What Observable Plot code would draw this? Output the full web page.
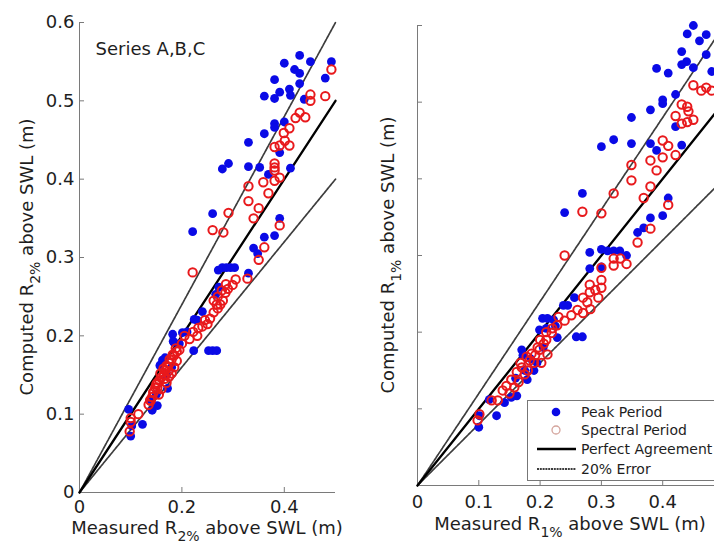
<!DOCTYPE html>
<html>
<head>
<meta charset="utf-8">
<script src="https://cdn.jsdelivr.net/npm/d3@7"></script>
<script src="https://cdn.jsdelivr.net/npm/@observablehq/plot@0.6"></script>
<style>
  html, body { margin: 0; padding: 0; background: #fff; overflow: hidden; }
  #wrap { position: relative; width: 714px; height: 544px; overflow: hidden; background: #fff; }
  #wrap svg { position: absolute; top: 0; overflow: visible; }
</style>
</head>
<body>
<div id="wrap"></div>
<script>
// ---------- data ----------
const xTicksLeft = [0, 0.2, 0.4];
const xTicksRight = [0, 0.1, 0.2, 0.3, 0.4];
const xTickMarksRight = [0, 0.1, 0.2, 0.3, 0.4, 0.5];
const yTicks = [0, 0.1, 0.2, 0.3, 0.4, 0.5, 0.6];

const lineMeasured = [0, 0.5];
const linePerfect = [0, 0.5];
const lineUpper = [0, 0.6];   // +20%
const lineLower = [0, 0.4];   // -20%

// Left panel (R2%) - Peak Period
const peakL_x = [0.430,0.400,0.451,0.420,0.492,0.381,0.430,0.480,0.361,0.381,0.391,0.410,0.412,0.439,0.400,0.381,0.381,0.361,0.330,0.391,0.412,0.291,0.279,0.330,0.352,0.369,0.221,0.260,0.391,0.381,0.361,0.340,0.348,0.430,
  0.271,0.279,0.287,0.295,0.303,0.330,0.272,0.266,0.240,0.224,0.182,0.201,0.223,0.252,0.260,0.268,0.184,0.162,0.158,0.157,0.172,0.152,0.142,0.123,0.100,0.096,0.102,0.170,0.180,0.150,0.140,0.195,0.210,0.230,0.167,0.183];
const peakL_y = [0.558,0.548,0.550,0.540,0.550,0.527,0.522,0.529,0.506,0.503,0.511,0.515,0.507,0.502,0.473,0.471,0.466,0.458,0.447,0.434,0.414,0.420,0.413,0.416,0.415,0.406,0.333,0.356,0.350,0.328,0.326,0.312,0.305,0.535,
  0.284,0.287,0.287,0.287,0.287,0.280,0.262,0.253,0.231,0.221,0.202,0.204,0.181,0.181,0.181,0.181,0.192,0.169,0.163,0.162,0.133,0.111,0.105,0.087,0.072,0.106,0.085,0.150,0.160,0.125,0.118,0.190,0.205,0.220,0.172,0.193];

// Left panel (R2%) - Spectral Period
const specL_x = [0.492,0.451,0.451,0.480,0.430,0.441,0.422,0.410,0.399,0.410,0.401,0.391,0.381,0.381,0.381,0.381,0.391,0.381,0.359,0.369,0.330,0.330,0.350,0.340,0.291,0.260,0.281,0.391,0.361,0.350,0.221,
  0.328,0.305,0.299,0.290,0.285,0.280,0.275,0.270,0.262,0.255,0.245,0.240,0.232,0.222,0.215,0.205,0.200,0.195,0.190,0.185,0.180,0.176,0.172,0.168,0.165,0.160,0.156,0.152,0.148,0.145,0.142,0.138,0.135,0.180,0.175,0.170,0.185,0.190,0.160,0.155,0.115,0.100,0.098,0.100,0.262,0.270,0.250,0.230,0.139,0.152,
  0.158,0.164,0.170,0.176,0.182,0.188,0.150,0.144,0.166,0.174,0.278,0.286,0.268];
const specL_y = [0.540,0.508,0.500,0.506,0.485,0.479,0.478,0.465,0.459,0.443,0.449,0.443,0.441,0.420,0.415,0.411,0.402,0.398,0.396,0.382,0.391,0.372,0.363,0.350,0.357,0.335,0.332,0.341,0.313,0.297,0.281,
  0.273,0.272,0.265,0.260,0.255,0.245,0.240,0.235,0.230,0.222,0.220,0.212,0.210,0.205,0.196,0.200,0.190,0.182,0.180,0.175,0.170,0.165,0.160,0.156,0.150,0.147,0.143,0.140,0.134,0.128,0.122,0.118,0.112,0.152,0.148,0.140,0.160,0.168,0.132,0.125,0.100,0.090,0.078,0.095,0.245,0.250,0.215,0.200,0.117,0.134,
  0.152,0.158,0.162,0.170,0.176,0.184,0.138,0.128,0.145,0.155,0.258,0.266,0.240];

// Right panel (R1%) - Peak Period
const peakR_x = [0.450,0.440,0.471,0.460,0.431,0.471,0.439,0.431,0.450,0.390,0.409,0.480,0.421,0.400,0.400,0.380,0.349,0.421,0.300,0.320,0.349,0.380,0.390,0.431,0.269,0.240,0.409,0.400,0.380,0.369,0.359,0.281,0.300,0.310,0.320,0.330,0.341,0.281,0.300,
  0.256,0.245,0.238,0.204,0.212,0.222,0.228,0.259,0.269,0.199,0.170,0.172,0.185,0.179,0.162,0.153,0.142,0.129,0.117,0.101,0.100,0.190,0.195,0.205,0.175,0.160,0.210,0.225];
const peakR_y = [0.600,0.589,0.588,0.580,0.566,0.562,0.553,0.549,0.545,0.544,0.538,0.540,0.510,0.503,0.498,0.490,0.480,0.468,0.442,0.451,0.446,0.446,0.437,0.444,0.381,0.356,0.375,0.352,0.349,0.336,0.330,0.304,0.308,0.306,0.306,0.306,0.300,0.283,0.285,
  0.245,0.235,0.235,0.218,0.218,0.216,0.193,0.194,0.194,0.203,0.177,0.170,0.165,0.138,0.117,0.115,0.108,0.091,0.112,0.091,0.076,0.150,0.160,0.180,0.150,0.140,0.205,0.208];

// Right panel (R1%) - Spectral Period
const specR_x = [0.450,0.463,0.471,0.480,0.431,0.440,0.442,0.421,0.431,0.440,0.450,0.400,0.409,0.421,0.400,0.380,0.390,0.349,0.349,0.380,0.369,0.320,0.269,0.300,0.409,0.359,0.380,0.240,0.320,0.331,0.341,0.300,0.320,
  0.300,0.300,0.281,0.281,0.277,0.270,0.261,0.251,0.240,0.228,0.219,0.210,0.199,0.192,0.183,0.170,0.162,0.153,0.145,0.139,0.131,0.121,0.101,0.098,0.212,0.202,0.190,0.180,0.175,0.165,0.158,0.150,0.200,0.210,0.220,0.230,0.290,0.295,0.282,0.270,
  0.186,0.196,0.206,0.168,0.178];
const specR_y = [0.522,0.515,0.519,0.515,0.497,0.494,0.488,0.482,0.472,0.474,0.477,0.450,0.443,0.431,0.428,0.424,0.411,0.418,0.398,0.390,0.375,0.381,0.357,0.355,0.366,0.317,0.335,0.300,0.296,0.296,0.289,0.284,0.287,
  0.258,0.268,0.262,0.252,0.239,0.245,0.229,0.222,0.215,0.209,0.199,0.190,0.177,0.170,0.163,0.154,0.148,0.138,0.130,0.124,0.111,0.111,0.093,0.085,0.171,0.160,0.160,0.150,0.145,0.135,0.128,0.120,0.190,0.200,0.205,0.220,0.255,0.245,0.230,0.225,
  0.172,0.180,0.185,0.160,0.168];

const legendLabels = ["Peak Period", "Spectral Period", "Perfect Agreement", "20% Error"];
const panelNote = "Series A,B,C";

// ---------- helpers ----------
const toPts = (xs, ys) => xs.map((x, i) => ({x, y: ys[i]}));
const FONT = "DejaVu Sans";
const AXIS_GRAY = "#7a7a7a";
const TEXT = "#1e1e1e";
const BLUE = "#0a0ae6";
const RED = "#e8191c";
const ERR = "#3d3d3d";

function panel({width, marginLeft, marginRight, marginTop, marginBottom, xTicks, xTickMarks, xPad, yLabels, peakX, peakY, specX, specY, note}) {
  const perfect = toPts(lineMeasured, linePerfect);
  const upper = toPts(lineMeasured, lineUpper);
  const lower = toPts(lineMeasured, lineLower);
  const marks = [
    Plot.ruleY([0], {stroke: AXIS_GRAY, strokeWidth: 1}),
    Plot.ruleX([0], {stroke: AXIS_GRAY, strokeWidth: 1}),
    Plot.axisX(xTickMarks || xTicks, {tickSize: -5, tickPadding: xPad, stroke: AXIS_GRAY, fill: TEXT,
      tickFormat: d => (xTicks.includes(d) ? String(d) : ""), fontSize: 18}),
    Plot.axisY(yTicks, {tickSize: -5, tickPadding: 10, stroke: AXIS_GRAY, fill: TEXT, tickFormat: yLabels ? (d => String(d)) : (() => ""), fontSize: 18}),
    Plot.line(upper, {x: "x", y: "y", stroke: ERR, strokeWidth: 1.7, strokeDasharray: "3,0.8"}),
    Plot.line(lower, {x: "x", y: "y", stroke: ERR, strokeWidth: 1.7, strokeDasharray: "3,0.8"}),
    Plot.line(perfect, {x: "x", y: "y", stroke: "#000", strokeWidth: 2.3}),
    Plot.dot(toPts(peakX, peakY), {x: "x", y: "y", r: 4.4, fill: BLUE, stroke: "none"}),
    Plot.dot(toPts(specX, specY), {x: "x", y: "y", r: 4.2, fill: "none", stroke: RED, strokeWidth: 2})
  ];
  if (note) marks.push(Plot.text([note], {frameAnchor: "top-left", dx: 16, dy: 20, textAnchor: "start", fontSize: 18, fill: TEXT}));
  return Plot.plot({
    width, height: 544,
    marginLeft, marginRight, marginTop, marginBottom,
    x: {domain: [0, 0.5], label: null},
    y: {domain: [0, 0.6], label: null},
    style: {fontFamily: FONT, fontSize: "18px", background: "transparent", color: TEXT, overflow: "visible"},
    marks
  });
}

function addLabel(svg, {x, y, rotate, main, sub, rest}) {
  const t = d3.select(svg).append("text")
    .attr("transform", `translate(${x},${y})` + (rotate ? " rotate(-90)" : ""))
    .attr("text-anchor", "middle")
    .attr("font-family", FONT)
    .attr("font-size", 18)
    .attr("fill", TEXT);
  t.append("tspan").text(main);
  t.append("tspan").attr("font-size", 14).attr("dy", 7).text(sub);
  t.append("tspan").attr("dy", -7).text(rest);
}

const wrap = document.getElementById("wrap");

// Left panel
const left = panel({width: 354, marginLeft: 79, marginRight: 19, marginTop: 22, marginBottom: 52,
  xTicks: xTicksLeft, xPad: 13, yLabels: true, peakX: peakL_x, peakY: peakL_y, specX: specL_x, specY: specL_y, note: panelNote});
left.style.left = "0px";
wrap.appendChild(left);
addLabel(left, {x: 207, y: 534, main: "Measured R", sub: "2%", rest: " above SWL (m)"});
addLabel(left, {x: 33, y: 257, rotate: true, main: "Computed R", sub: "2%", rest: " above SWL (m)"});

// Right panel
const right = panel({width: 376, marginLeft: 63, marginRight: 6.5, marginTop: 25, marginBottom: 59,
  xTicks: xTicksRight, xTickMarks: xTickMarksRight, xPad: 15, yLabels: false, peakX: peakR_x, peakY: peakR_y, specX: specR_x, specY: specR_y});
right.style.left = "354px";
wrap.appendChild(right);
addLabel(right, {x: 216, y: 530, main: "Measured R", sub: "1%", rest: " above SWL (m)"});
addLabel(right, {x: 40, y: 255, rotate: true, main: "Computed R", sub: "1%", rest: " above SWL (m)"});

// Legend
const leg = d3.select(wrap).append("svg")
  .attr("width", 200).attr("height", 82)
  .style("left", "527px").style("top", "400px");
leg.append("rect").attr("x", 0.5).attr("y", 0.5).attr("width", 230).attr("height", 80)
  .attr("fill", "#fff").attr("stroke", "#777").attr("stroke-width", 1);
const rowY = [12, 30, 49, 69];
leg.append("circle").attr("cx", 29).attr("cy", rowY[0]).attr("r", 4.3).attr("fill", BLUE);
leg.append("circle").attr("cx", 29).attr("cy", rowY[1]).attr("r", 4).attr("fill", "none").attr("stroke", "#d4a49c").attr("stroke-width", 1.3);
leg.append("line").attr("x1", 10).attr("x2", 49).attr("y1", rowY[2]).attr("y2", rowY[2]).attr("stroke", "#000").attr("stroke-width", 2.3);
leg.append("line").attr("x1", 10).attr("x2", 49).attr("y1", rowY[3]).attr("y2", rowY[3]).attr("stroke", ERR).attr("stroke-width", 2).attr("stroke-dasharray", "2,0.8");
legendLabels.forEach((s, i) => {
  leg.append("text").attr("x", 54).attr("y", rowY[i]).attr("dy", "0.35em")
    .attr("font-family", FONT).attr("font-size", 14).attr("fill", TEXT).text(s);
});
</script>
</body>
</html>
